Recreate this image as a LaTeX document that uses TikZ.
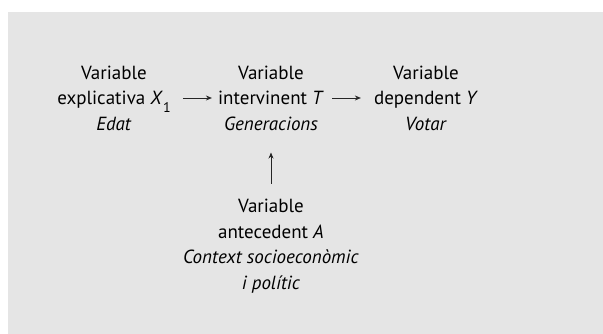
\documentclass[tikz,border=0pt]{standalone}
\usepackage{fontspec}
\setmainfont{PT Sans}
\usetikzlibrary{calc, positioning, arrows.meta}

\definecolor{panel}{gray}{0.90}

\begin{document}
\begin{tikzpicture}[x=1pt, y=1pt, font=\fontsize{19}{25.5}\selectfont]

  \tikzset{
    var/.style={align=center, inner sep=4pt},
    link/.style={-{Stealth[length=6pt, width=5pt]}, line width=0.9pt, black!85}
  }

  \useasboundingbox (0,0) rectangle (603,334);
  \fill[panel] (8,0) rectangle (603,322);

  % the four variables
  \node[var] (expl)   at (114, 236) {Variable\\explicativa \textit{X}\raisebox{-0.8ex}{\fontsize{14}{14}\selectfont 1}\\\textit{Edat}};
  \node[var] (interv) at (271, 236) {Variable\\intervinent \textit{T}\\\textit{Generacions}};
  \node[var] (dep)    at (426, 236) {Variable\\dependent \textit{Y}\\\textit{Votar}};
  \node[var] (ante)   at (271, 88)  {Variable\\antecedent \textit{A}\\\textit{Context socioeconòmic}\\\textit{i polític}};

  % causal links
  \draw[link, shorten <=8pt, shorten >=2pt] (expl) -- (interv);
  \draw[link, shorten <=4pt, shorten >=9pt] (interv) -- (dep);
  \draw[link, shorten <=11pt, shorten >=18pt] (ante) -- (interv);

\end{tikzpicture}
\end{document}
